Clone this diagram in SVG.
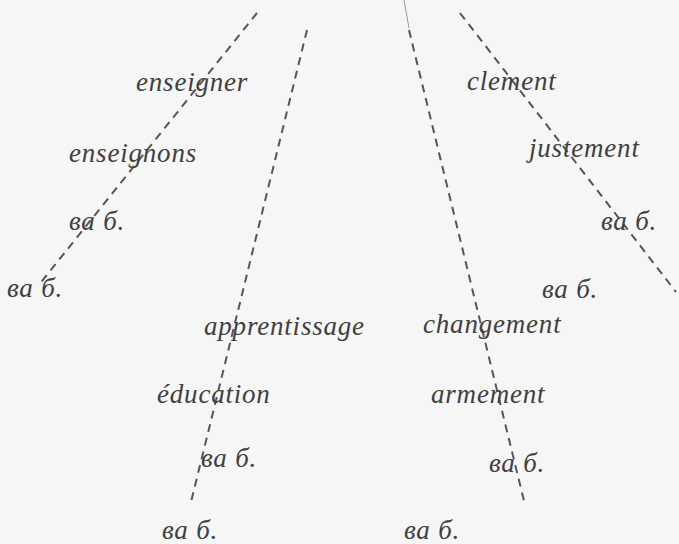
<svg xmlns="http://www.w3.org/2000/svg" width="679" height="544" viewBox="0 0 679 544">
  <style>
    .lbl { font-family: "Liberation Serif", "DejaVu Serif", serif; font-style: italic; font-size: 27px; letter-spacing: 0.8px; fill: #404040; }
    .dash { stroke: #555; stroke-width: 2; stroke-dasharray: 8 6; fill: none; }
    .thin { stroke: #9a9a9a; stroke-width: 1; fill: none; }
  </style>
  <rect width="679" height="544" fill="#f6f6f6"/>

  <!-- dashed guide lines -->
  <g id="connectors">
    <line class="dash" x1="257" y1="13" x2="38" y2="286"/>
    <line class="dash" x1="307" y1="30" x2="191" y2="502"/>
    <line class="thin" x1="404" y1="0" x2="409" y2="28"/>
    <line class="dash" x1="409" y1="30" x2="525" y2="505"/>
    <line class="dash" x1="460" y1="13" x2="676" y2="292"/>
  </g>

  <g id="enseigner"><text class="lbl" x="136" y="91">enseigner</text></g>
  <g id="enseignons"><text class="lbl" x="69" y="162">enseignons</text></g>
  <g id="vab-1"><text class="lbl" x="69" y="230">ва б.</text></g>
  <g id="vab-2"><text class="lbl" x="7" y="297">ва б.</text></g>

  <g id="apprentissage"><text class="lbl" x="204" y="335">apprentissage</text></g>
  <g id="education"><text class="lbl" x="157" y="403">éducation</text></g>
  <g id="vab-3"><text class="lbl" x="201" y="467">ва б.</text></g>
  <g id="vab-4"><text class="lbl" x="162" y="539">ва б.</text></g>

  <g id="clement"><text class="lbl" x="467" y="90">clement</text></g>
  <g id="justement"><text class="lbl" x="529" y="157">justement</text></g>
  <g id="vab-5"><text class="lbl" x="601" y="230">ва б.</text></g>
  <g id="vab-6"><text class="lbl" x="542" y="298">ва б.</text></g>

  <g id="changement"><text class="lbl" x="423" y="333">changement</text></g>
  <g id="armement"><text class="lbl" x="431" y="403">armement</text></g>
  <g id="vab-7"><text class="lbl" x="489" y="472">ва б.</text></g>
  <g id="vab-8"><text class="lbl" x="404" y="539">ва б.</text></g>
</svg>
